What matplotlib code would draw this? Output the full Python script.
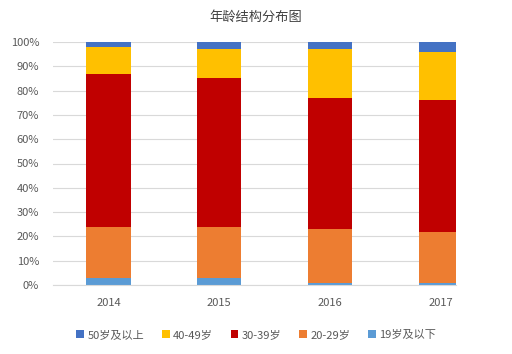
import numpy as np
import matplotlib.pyplot as plt

plt.rcParams['font.family'] = ['Noto Sans CJK SC', 'DejaVu Sans']

years = ['2014', '2015', '2016', '2017']
# 各年龄段占比 (%)
age_19 = [3, 3, 1, 1]
age_20_29 = [21, 21, 22, 21]
age_30_39 = [63, 61, 54, 54]
age_40_49 = [11, 12, 20, 20]
age_50 = [2, 3, 3, 4]

series = [
    ('19岁及以下', age_19, '#5B9BD5'),
    ('20-29岁', age_20_29, '#ED7D31'),
    ('30-39岁', age_30_39, '#C00000'),
    ('40-49岁', age_40_49, '#FFC000'),
    ('50岁及以上', age_50, '#4472C4'),
]

fig = plt.figure(figsize=(5.12, 3.54), dpi=100)
# 原图右侧被裁掉, 绘图区止于 2017 柱中间偏右
ax = fig.add_axes([53 / 512, 1 - 285 / 354, 403 / 512, 243 / 354])

x = np.arange(len(years))
bottom = np.zeros(len(years))
handles = []
for name, vals, col in series:
    b = ax.bar(x, vals, 0.4, bottom=bottom, color=col, label=name, zorder=2)
    handles.append(b)
    bottom += np.array(vals)

ax.set_xlim(-0.5, 3.135)
ax.set_ylim(0, 100)
ax.set_yticks(np.arange(0, 101, 10))
ax.set_yticklabels([f'{v}%' for v in range(0, 101, 10)])
ax.set_xticks(x)
ax.set_xticklabels(years)
ax.yaxis.grid(True, color='#D9D9D9', linewidth=0.8, zorder=0)
for s in ['top', 'right', 'left']:
    ax.spines[s].set_visible(False)
ax.spines['bottom'].set_color('#D9D9D9')
ax.tick_params(axis='both', length=0, labelsize=8, colors='#595959')
ax.tick_params(axis='y', pad=10)
ax.tick_params(axis='x', pad=9)

fig.text(0.5, 1 - 17 / 354, '年龄结构分布图', ha='center', va='center',
         fontsize=9.5, color='#404040')

fig.legend(handles[::-1], [s[0] for s in series][::-1], loc='center',
           bbox_to_anchor=(0.5, 1 - 335 / 354), ncol=5, frameon=False,
           fontsize=8, handlelength=0.7, handleheight=0.7, handletextpad=0.3,
           columnspacing=1.6, labelcolor='#595959')

fig.savefig('out.png', dpi=100)
